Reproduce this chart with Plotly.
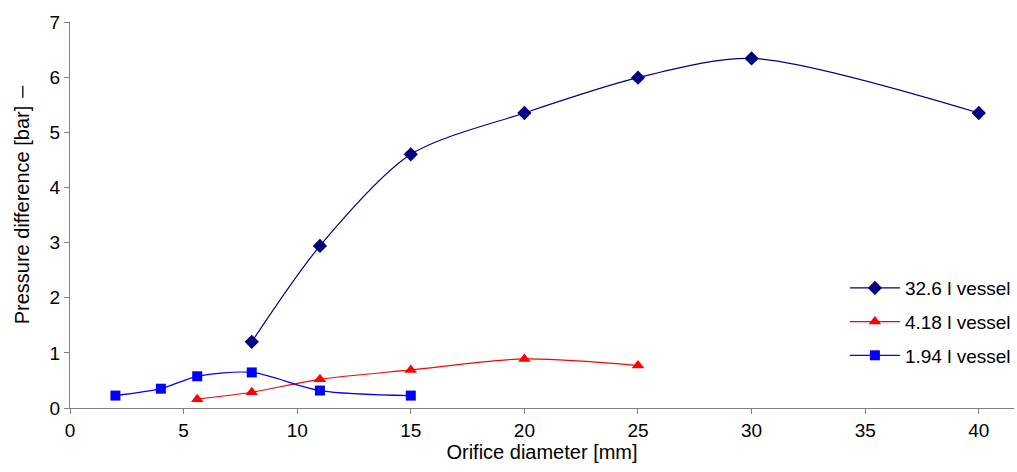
import plotly.graph_objects as go

# Data
x_326 = [8, 11, 15, 20, 25, 30, 40]
y_326 = [1.2, 2.94, 4.6, 5.35, 5.99, 6.34, 5.35]

x_418 = [5.6, 8, 11, 15, 20, 25]
y_418 = [0.16, 0.285, 0.52, 0.69, 0.89, 0.77]

x_194 = [2, 4, 5.6, 8, 11, 15]
y_194 = [0.225, 0.35, 0.575, 0.645, 0.316, 0.225]

names = ["32.6 l vessel", "4.18 l vessel", "1.94 l vessel"]
x_ticks = [0, 5, 10, 15, 20, 25, 30, 35, 40]
y_ticks = [0, 1, 2, 3, 4, 5, 6, 7]

FONT = "Liberation Sans, Arial, sans-serif"

fig = go.Figure()
series = [
    (x_326, y_326, names[0], "#000080", "diamond", 11),
    (x_418, y_418, names[1], "#FF0000", "triangle-up", 11),
    (x_194, y_194, names[2], "#0000FF", "square", 10),
]
for i, (xs, ys, nm, col, sym, sz) in enumerate(series):
    fig.add_trace(go.Scatter(
        x=xs, y=ys, name=nm, mode="lines+markers",
        line=dict(color=col, width=1.2, shape="spline", smoothing=0.8),
        marker=dict(symbol=sym, size=sz, color=col),
        legendgroup=f"g{i}",
    ))

axis_common = dict(
    showgrid=False, zeroline=False, showline=True,
    linecolor="#808080", linewidth=1.3,
    ticks="outside", ticklen=5, tickcolor="#808080", tickwidth=1.3,
    tickfont=dict(family=FONT, size=19, color="#000000"),
)

fig.update_layout(
    width=1017, height=472,
    margin=dict(l=70, r=2, t=22, b=64),
    paper_bgcolor="white", plot_bgcolor="white",
    font=dict(family=FONT, color="#000000"),
    xaxis=dict(range=[0, 41.55], tickvals=x_ticks,
               title=dict(text="Orifice diameter [mm]", font=dict(family=FONT, size=20), standoff=2),
               **axis_common),
    yaxis=dict(range=[0, 7], tickvals=y_ticks,
               title=dict(text="Pressure difference [bar]", font=dict(family=FONT, size=20), standoff=14),
               **axis_common),
    legend=dict(x=0.82, y=0.36, xanchor="left", yanchor="top",
                bgcolor="rgba(0,0,0,0)", font=dict(family=FONT, size=19),
                tracegroupgap=6, itemwidth=50),
    showlegend=True,
)

# stray vertical mark near the y-axis title in the reference
fig.add_shape(type="line", xref="paper", yref="paper",
              x0=-0.05, x1=-0.05, y0=0.804, y1=0.835,
              line=dict(color="#000000", width=1.3))

fig.write_html("out.html")
